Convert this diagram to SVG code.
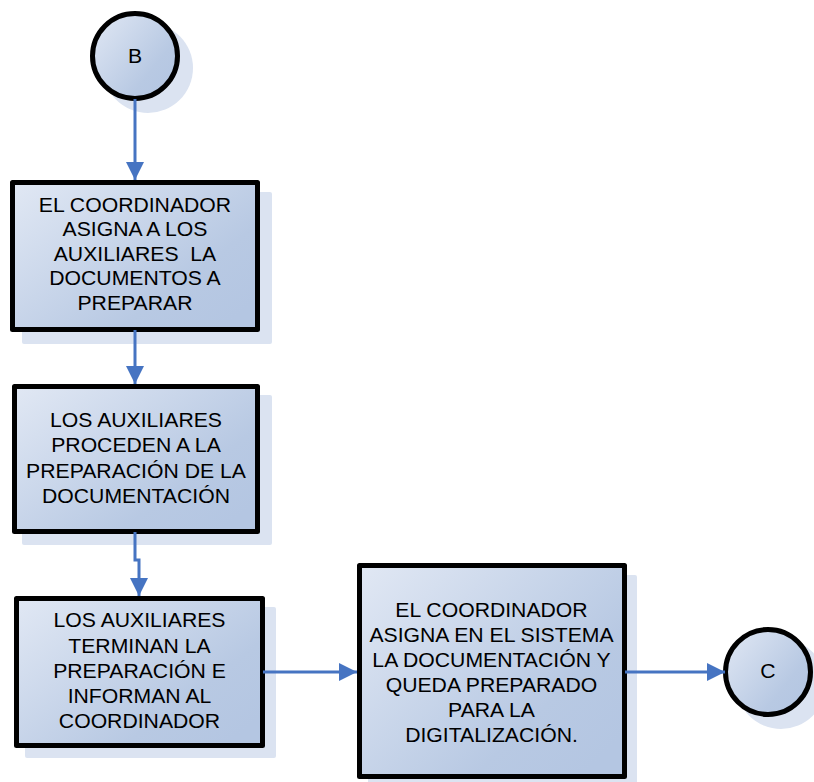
<svg xmlns="http://www.w3.org/2000/svg" width="814" height="782" viewBox="0 0 814 782">
  <defs>
    <linearGradient id="fillGrad" x1="0" y1="0" x2="1" y2="0.8">
      <stop offset="0" stop-color="#e1e8f4"/>
      <stop offset="0.75" stop-color="#b8c9e3"/>
      <stop offset="1" stop-color="#b4c6e2"/>
    </linearGradient>
    <marker id="arrow" markerUnits="userSpaceOnUse" markerWidth="18" markerHeight="18" refX="18" refY="9" orient="auto">
      <path d="M0,0 L18,9 L0,18 z" fill="#4674c2"/>
    </marker>
    <style>
      .shadow { fill: #dbe3f1; }
      .shape { fill: url(#fillGrad); stroke: #000; stroke-width: 5; stroke-linejoin: round; }
      .label { font-family: "Liberation Sans", Arial, sans-serif; font-size: 19.5px; fill: #000; text-anchor: middle; }
      .conn { fill: none; stroke: #4674c2; stroke-width: 3; marker-end: url(#arrow); }
    </style>
  </defs>
  <rect width="814" height="782" fill="#fff"/>

  <!-- start connector B -->
  <g id="node-b">
    <circle class="shadow" cx="148" cy="68" r="45"/>
    <circle class="shape" cx="135" cy="56" r="42.5"/>
    <text class="label" x="135" y="63" transform="translate(135,0) scale(1.087,1) translate(-135,0)">B</text>
  </g>

  <g id="node-asigna">
    <rect class="shadow" x="22" y="192" width="250" height="152" rx="2"/>
    <rect class="shape" x="12.5" y="182.5" width="245" height="147"/>
    <text class="label" transform="translate(135,0) scale(1.087,1) translate(-135,0)"><tspan x="135" y="212">EL COORDINADOR</tspan><tspan x="135" y="236.5">ASIGNA A LOS</tspan><tspan x="135" y="261">AUXILIARES&#160; LA</tspan><tspan x="135" y="285.5">DOCUMENTOS A</tspan><tspan x="135" y="310">PREPARAR</tspan></text>
  </g>

  <g id="node-preparacion">
    <rect class="shadow" x="22" y="395" width="250" height="150" rx="2"/>
    <rect class="shape" x="14.5" y="386.5" width="243" height="145"/>
    <text class="label" transform="translate(136,0) scale(1.087,1) translate(-136,0)"><tspan x="136" y="427">LOS AUXILIARES</tspan><tspan x="136" y="452.5">PROCEDEN A LA</tspan><tspan x="136" y="478">PREPARACIÓN DE LA</tspan><tspan x="136" y="503">DOCUMENTACIÓN</tspan></text>
  </g>

  <g id="node-terminan">
    <rect class="shadow" x="25" y="607" width="251" height="151" rx="2"/>
    <rect class="shape" x="16.5" y="598.5" width="246" height="147"/>
    <text class="label" transform="translate(139.5,0) scale(1.087,1) translate(-139.5,0)"><tspan x="139.5" y="627.5">LOS AUXILIARES</tspan><tspan x="139.5" y="653">TERMINAN LA</tspan><tspan x="139.5" y="678">PREPARACIÓN E</tspan><tspan x="139.5" y="703">INFORMAN AL</tspan><tspan x="139.5" y="728">COORDINADOR</tspan></text>
  </g>

  <g id="node-sistema">
    <rect class="shadow" x="368" y="575" width="269" height="215" rx="2"/>
    <rect class="shape" x="359.5" y="565.5" width="265" height="211"/>
    <text class="label" transform="translate(491.5,0) scale(1.087,1) translate(-491.5,0)"><tspan x="491.5" y="617">EL COORDINADOR</tspan><tspan x="491.5" y="642.5">ASIGNA EN EL SISTEMA</tspan><tspan x="491.5" y="667.5">LA DOCUMENTACIÓN Y</tspan><tspan x="491.5" y="692.5">QUEDA PREPARADO</tspan><tspan x="491.5" y="717.5">PARA LA</tspan><tspan x="491.5" y="742">DIGITALIZACIÓN.</tspan></text>
  </g>

  <!-- end connector C -->
  <g id="node-c">
    <circle class="shadow" cx="781" cy="684" r="45"/>
    <circle class="shape" cx="768" cy="672" r="42.5"/>
    <text class="label" x="768" y="678.5" transform="translate(768,0) scale(1.087,1) translate(-768,0)">C</text>
  </g>

  <!-- connectors drawn over the shadows -->
  <g id="connectors">
    <path class="conn" d="M135,99 V180"/>
    <path class="conn" d="M135,330 V384"/>
    <path class="conn" d="M135,532 V560 H139 V596"/>
    <path class="conn" d="M263,672 H357"/>
    <path class="conn" d="M625,672 H725"/>
  </g>
</svg>
